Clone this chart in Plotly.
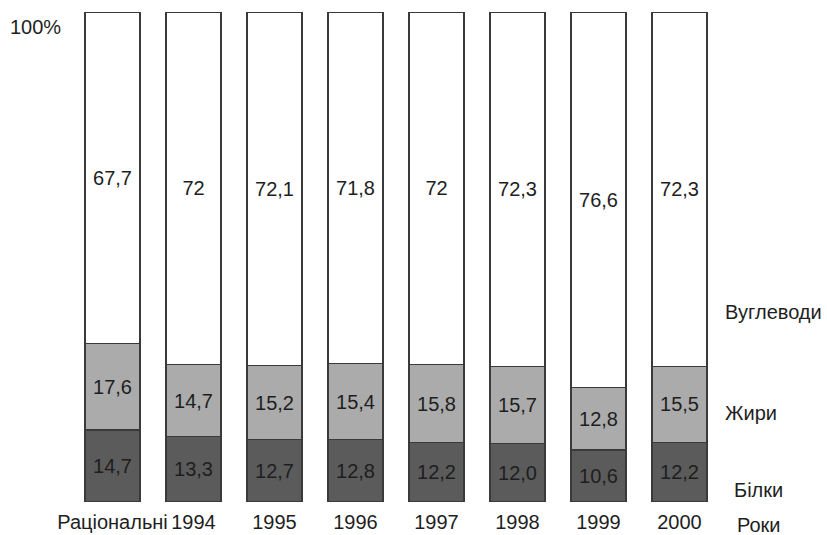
import plotly.graph_objects as go

categories = ["Раціональні", "1994", "1995", "1996", "1997", "1998", "1999", "2000"]
bilky = [14.7, 13.3, 12.7, 12.8, 12.2, 12.0, 10.6, 12.2]
zhyry = [17.6, 14.7, 15.2, 15.4, 15.8, 15.7, 12.8, 15.5]
vuhlevody = [67.7, 72, 72.1, 71.8, 72, 72.3, 76.6, 72.3]

bilky_txt = [("%.1f" % v).replace(".", ",") for v in bilky]
zhyry_txt = [("%.1f" % v).replace(".", ",") for v in zhyry]
vuhl_txt = [("%g" % v).replace(".", ",") for v in vuhlevody]

FONT = "Liberation Sans, Arial, sans-serif"
TXT = "#1e1e1e"
EDGE = "#3a3a3a"
FS = 20

fig = go.Figure()
series = [
    ("Білки", bilky, bilky_txt, "#5b5b5b"),
    ("Жири", zhyry, zhyry_txt, "#ababab"),
    ("Вуглеводи", vuhlevody, vuhl_txt, "#ffffff"),
]
for name, vals, txt, col in series:
    fig.add_trace(go.Bar(
        x=categories, y=vals, name=name, text=txt,
        textposition="inside", insidetextanchor="middle",
        insidetextfont=dict(family=FONT, size=FS, color=TXT),
        marker=dict(color=col, line=dict(color=EDGE, width=1.2)),
        constraintext="none", hoverinfo="skip",
    ))

fig.update_layout(
    barmode="stack", bargap=0.32,
    width=827, height=535,
    margin=dict(l=72, r=107, t=12, b=33, autoexpand=False),
    paper_bgcolor="white", plot_bgcolor="white",
    showlegend=False,
    font=dict(family=FONT, size=FS, color=TXT),
    xaxis=dict(showgrid=False, showline=False, zeroline=False, ticks="",
               automargin=False,
               tickfont=dict(family=FONT, size=FS, color=TXT),
               ticklabelstandoff=6),
    yaxis=dict(range=[0, 100], visible=False, automargin=False),
)

right_labels = [("Вуглеводи", 0.388, 3), ("Жири", 0.182, 3), ("Білки", 0.024, 12), ("Роки", -0.047, 15)]
for t, yp, xs in right_labels:
    fig.add_annotation(text=t, xref="paper", yref="paper", x=1, y=yp, xanchor="left",
                       yanchor="middle", xshift=xs, showarrow=False,
                       font=dict(family=FONT, size=FS, color=TXT))
fig.add_annotation(text="100%", xref="paper", yref="paper", x=0, y=0.969, xanchor="left",
                   yanchor="middle", xshift=-64, showarrow=False,
                   font=dict(family=FONT, size=FS, color=TXT))

fig.write_html("out.html")
